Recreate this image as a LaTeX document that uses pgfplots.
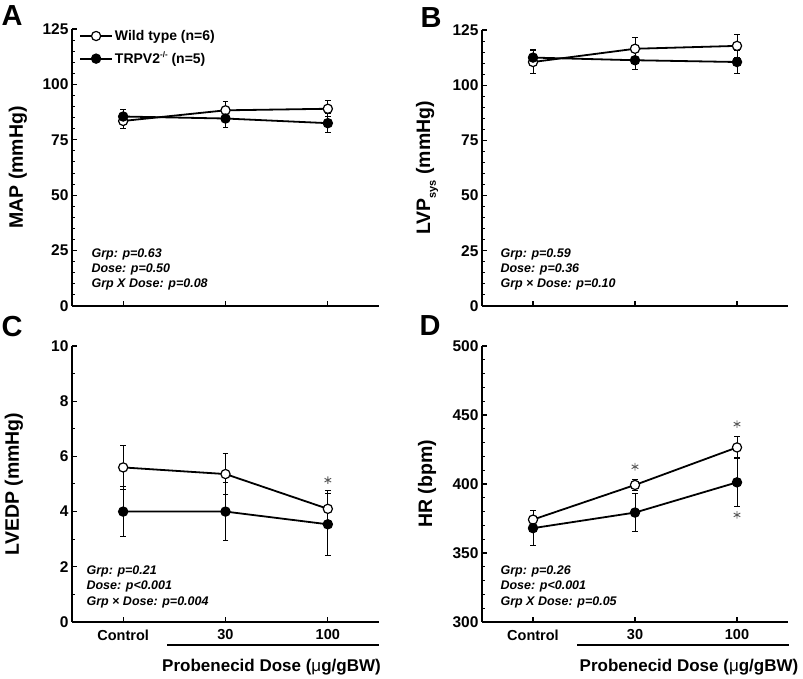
\documentclass[border=0pt]{standalone}
\usepackage{fontspec}
\setmainfont{Liberation Sans}
\usepackage{pgfplots}
\pgfplotsset{compat=1.18}

\pgfplotsset{
  panel/.style={
    scale only axis,
    axis x line*=bottom, axis y line*=left,
    axis line style={line width=1.6pt, black},
    xtick align=inside, ytick align=inside,
    major tick length=5pt, minor tick length=3pt,
    every tick/.style={line width=1.2pt, black},
    every minor tick/.style={line width=1pt, black},
    xmin=-0.5, xmax=2.5, xtick={0,1,2},
    xticklabels={Control,30,100},
    /pgf/number format/assume math mode=true,
    yticklabel style={font=\fontsize{15.5}{15.5}\selectfont\bfseries},
    xticklabel style={font=\fontsize{14.5}{14.5}\selectfont\bfseries, yshift=-4pt},
    ylabel style={font=\fontsize{19.5}{19.5}\selectfont\bfseries, at={(axis description cs:0,0.5)}, anchor=center, yshift=55pt},
    clip=false,
    legend image code/.code={
      \draw[#1, mark repeat=2, mark phase=2] plot coordinates {(0pt,0pt) (16pt,0pt) (32pt,0pt)};
    },
  },
  wt/.style={black, line width=1.8pt, mark=*, mark size=4.6pt,
    mark options={fill=white, line width=1.2pt},
    error bars/.cd, y dir=both, y explicit,
    error bar style={line width=1pt},
    error mark options={rotate=90, mark size=2.8pt, line width=1pt}},
  ko/.style={black, line width=1.8pt, mark=*, mark size=4.6pt,
    mark options={fill=black, line width=1.2pt},
    error bars/.cd, y dir=both, y explicit,
    error bar style={line width=1pt},
    error mark options={rotate=90, mark size=2.8pt, line width=1pt}},
  star/.style={only marks, mark=asterisk, mark size=3.8pt, mark options={line width=0.9pt}, color=black!65, forget plot},
}
\newcommand{\ann}{\fontsize{12.5}{15}\selectfont\bfseries\itshape}

\begin{document}
\begin{tikzpicture}[x=1pt,y=1pt]
\useasboundingbox (0,0) rectangle (803,679);

% Panel A
\begin{axis}[panel, at={(72pt,373pt)}, anchor=south west, width=307pt, height=277pt,
  ymin=0, ymax=125, ytick={0,25,50,75,100,125}, minor y tick num=4,
  xticklabels={},
  ylabel={MAP (mmHg)}, ylabel style={yshift=-1pt},
  legend style={at={(axis description cs:0,1)}, anchor=north west, draw=none, fill=none,
    font=\fontsize{14}{14}\selectfont\bfseries, row sep=6pt, xshift=4pt, yshift=3pt},
  legend cell align=left]
\addplot[wt] coordinates {(0,83.5) +- (0,3.5) (1,88.3) +- (0,3.8) (2,89.0) +- (0,3.6)};
\addlegendentry{Wild type (n=6)}
\addplot[ko] coordinates {(0,85.5) +- (0,3.0) (1,84.6) +- (0,3.9) (2,82.5) +- (0,4.2)};
\addlegendentry{TRPV2\raisebox{0.45em}{\fontsize{8}{8}\selectfont -/-} (n=5)}
\end{axis}

% Panel B
\begin{axis}[panel, at={(482pt,373pt)}, anchor=south west, width=306pt, height=276pt,
  ymin=0, ymax=125, ytick={0,25,50,75,100,125}, minor y tick num=4,
  xticklabels={},
  ylabel={LVP\raisebox{-0.3em}{\fontsize{11}{11}\selectfont sys} (mmHg)}]
\addplot[wt] coordinates {(0,110.5) +- (0,5.0) (1,116.5) +- (0,5.2) (2,117.8) +- (0,5.2)};
\addplot[ko] coordinates {(0,112.5) +- (0,3.8) (1,111.3) +- (0,4.0) (2,110.5) +- (0,5.0)};
\end{axis}

% Panel C
\begin{axis}[panel, at={(72pt,57pt)}, anchor=south west, width=307pt, height=276pt,
  ymin=0, ymax=10, ytick={0,2,4,6,8,10}, minor y tick num=1,
  ylabel={LVEDP (mmHg)}, ylabel style={yshift=3pt}]
\addplot[wt] coordinates {(0,5.6) +- (0,0.8) (1,5.36) +- (0,0.74) (2,4.1) +- (0,0.66)};
\addplot[ko] coordinates {(0,4.0) +- (0,0.92) (1,4.0) +- (0,1.06) (2,3.54) +- (0,1.12)};
\addplot[star] coordinates {(2,5.14)};
\end{axis}

% Panel D
\begin{axis}[panel, at={(482pt,57pt)}, anchor=south west, width=306pt, height=276pt,
  ymin=300, ymax=500, ytick={300,350,400,450,500}, minor y tick num=4,
  ylabel={HR (bpm)}]
\addplot[wt] coordinates {(0,374.2) +- (0,6.5) (1,399.3) +- (0,4.3) (2,426.5) +- (0,8.0)};
\addplot[ko] coordinates {(0,368.0) +- (0,12.8) (1,379.3) +- (0,14.0) (2,401.2) +- (0,17.8)};
\addplot[star] coordinates {(1,412.5) (2,443.4) (2,377.6)};
\end{axis}

% statistics text
\node[anchor=base west, font=\ann] at (88,421) {Grp: p=0.63};
\node[anchor=base west, font=\ann] at (88,406) {Dose: p=0.50};
\node[anchor=base west, font=\ann] at (88,391) {Grp X Dose: p=0.08};
\node[anchor=base west, font=\ann] at (497,421) {Grp: p=0.59};
\node[anchor=base west, font=\ann] at (497,406) {Dose: p=0.36};
\node[anchor=base west, font=\ann] at (497,391) {Grp × Dose: p=0.10};
\node[anchor=base west, font=\ann] at (83,104) {Grp: p=0.21};
\node[anchor=base west, font=\ann] at (83,89) {Dose: p<0.001};
\node[anchor=base west, font=\ann] at (83,73) {Grp × Dose: p=0.004};
\node[anchor=base west, font=\ann] at (497,104) {Grp: p=0.26};
\node[anchor=base west, font=\ann] at (497,89) {Dose: p<0.001};
\node[anchor=base west, font=\ann] at (497,73) {Grp X Dose: p=0.05};

% dose underline and x labels
\draw[line width=1.5pt] (167,34) -- (379,34);
\draw[line width=1.5pt] (577,34) -- (789,34);
\node[font=\fontsize{17}{17}\selectfont\bfseries] at (271.5,12) {Probenecid Dose ({\mdseries μ}g/gBW)};
\node[font=\fontsize{17}{17}\selectfont\bfseries] at (689,12) {Probenecid Dose ({\mdseries μ}g/gBW)};

% panel letters
\node[font=\fontsize{29}{29}\selectfont\bfseries] at (12,663) {A};
\node[font=\fontsize{29}{29}\selectfont\bfseries] at (431,661) {B};
\node[font=\fontsize{29}{29}\selectfont\bfseries] at (12,352) {C};
\node[font=\fontsize{29}{29}\selectfont\bfseries] at (430,353) {D};
\end{tikzpicture}
\end{document}
